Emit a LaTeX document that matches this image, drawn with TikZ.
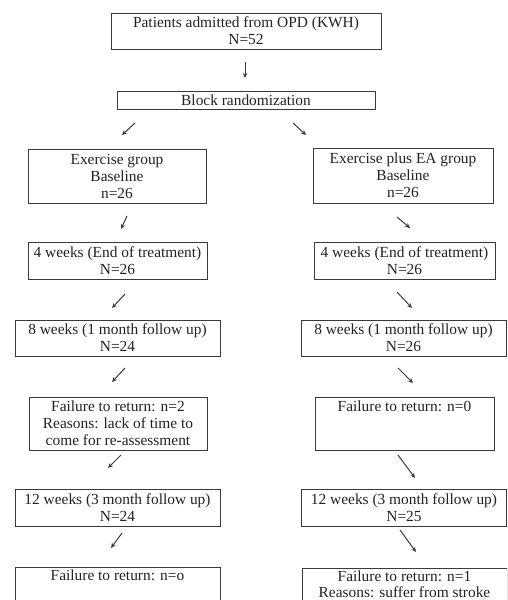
\documentclass[tikz,border=0pt]{standalone}
\usepackage{fontspec}
\setmainfont{Liberation Serif}
\usetikzlibrary{arrows.meta}
\definecolor{ink}{HTML}{222222}
\definecolor{edge}{HTML}{3A3A3A}
\begin{document}
\begin{tikzpicture}[x=1pt,y=-1pt,
  box/.style={draw=edge, line width=0.8pt, text=ink, align=center, inner sep=0pt,
    font=\fontsize{15.4}{17}\selectfont},
  openbox/.style={box, inner sep=2.5pt, anchor=north},
  arr/.style={draw=edge, line width=1pt, -{Stealth[length=5pt,width=4.5pt]}}]
\useasboundingbox (0,0) rectangle (507,600);
\clip (0,0) rectangle (507,600);

% top
\node[box, minimum width=270pt, minimum height=36pt] (pat) at (246,31)
  {Patients admitted from OPD (KWH)\\N=52};
\node[box, minimum width=258pt, minimum height=18pt] (rand) at (246,100)
  {Block randomization};

% left column
\node[box, minimum width=178pt, minimum height=54pt] (lbase) at (117,176)
  {Exercise group\\Baseline\\n=26};
\node[box, minimum width=179pt, minimum height=37pt] (lfour) at (117.5,260.5)
  {4 weeks (End of treatment)\\N=26};
\node[box, minimum width=205pt, minimum height=36pt] (leight) at (117.5,338)
  {8 weeks (1 month follow up)\\N=24};
\node[box, minimum width=178pt, minimum height=53pt] (lfail) at (118,423.5)
  {Failure to return: n=2\\Reasons: lack of time to\\come for re-assessment};
\node[box, minimum width=205pt, minimum height=37pt] (ltwelve) at (117.5,507.5)
  {12 weeks (3 month follow up)\\N=24};
\node[openbox, minimum width=205pt] (lbot) at (117.5,567)
  {Failure to return: n=o\\\mbox{}\\\mbox{}};

% right column
\node[box, minimum width=180pt, minimum height=55pt] (rbase) at (403,175.5)
  {Exercise plus EA group\\Baseline\\n=26};
\node[box, minimum width=181pt, minimum height=37pt] (rfour) at (404.5,260.5)
  {4 weeks (End of treatment)\\N=26};
\node[box, minimum width=205pt, minimum height=36pt] (reight) at (403.5,338)
  {8 weeks (1 month follow up)\\N=26};
\node[box, minimum width=179pt, minimum height=53pt] (rfail) at (404.5,423.5)
  {Failure to return: n=0\\\mbox{}\\\mbox{}};
\node[box, minimum width=205pt, minimum height=37pt] (rtwelve) at (404,507.5)
  {12 weeks (3 month follow up)\\N=25};
\node[openbox, minimum width=205pt] (rbot) at (404.5,567.5)
  {Failure to return: n=1\\[-0.5pt]Reasons: suffer from stroke\\\mbox{}};

% arrow end points
\coordinate (a0s) at (245,62);  \coordinate (a0e) at (245,78);
\coordinate (l1s) at (135,123); \coordinate (l1e) at (122,135);
\coordinate (r1s) at (293,123); \coordinate (r1e) at (306,135);
\coordinate (l2s) at (127,216); \coordinate (l2e) at (121,229);
\coordinate (r2s) at (397,217); \coordinate (r2e) at (410,228);
\coordinate (l3s) at (125,294); \coordinate (l3e) at (112,308);
\coordinate (r3s) at (397,292); \coordinate (r3e) at (412,308);
\coordinate (l4s) at (125,368); \coordinate (l4e) at (112,382);
\coordinate (r4s) at (398,368); \coordinate (r4e) at (413,383);
\coordinate (l5s) at (121,455); \coordinate (l5e) at (108,468);
\coordinate (r5s) at (398,455); \coordinate (r5e) at (415,478);
\coordinate (l6s) at (122,533); \coordinate (l6e) at (111,548);
\coordinate (r6s) at (400,530); \coordinate (r6e) at (416,552);

\draw[arr] (a0s) -- (a0e);
\foreach \n in {1,...,6}{
  \draw[arr] (l\n s) -- (l\n e);
  \draw[arr] (r\n s) -- (r\n e);
}
\end{tikzpicture}
\end{document}
